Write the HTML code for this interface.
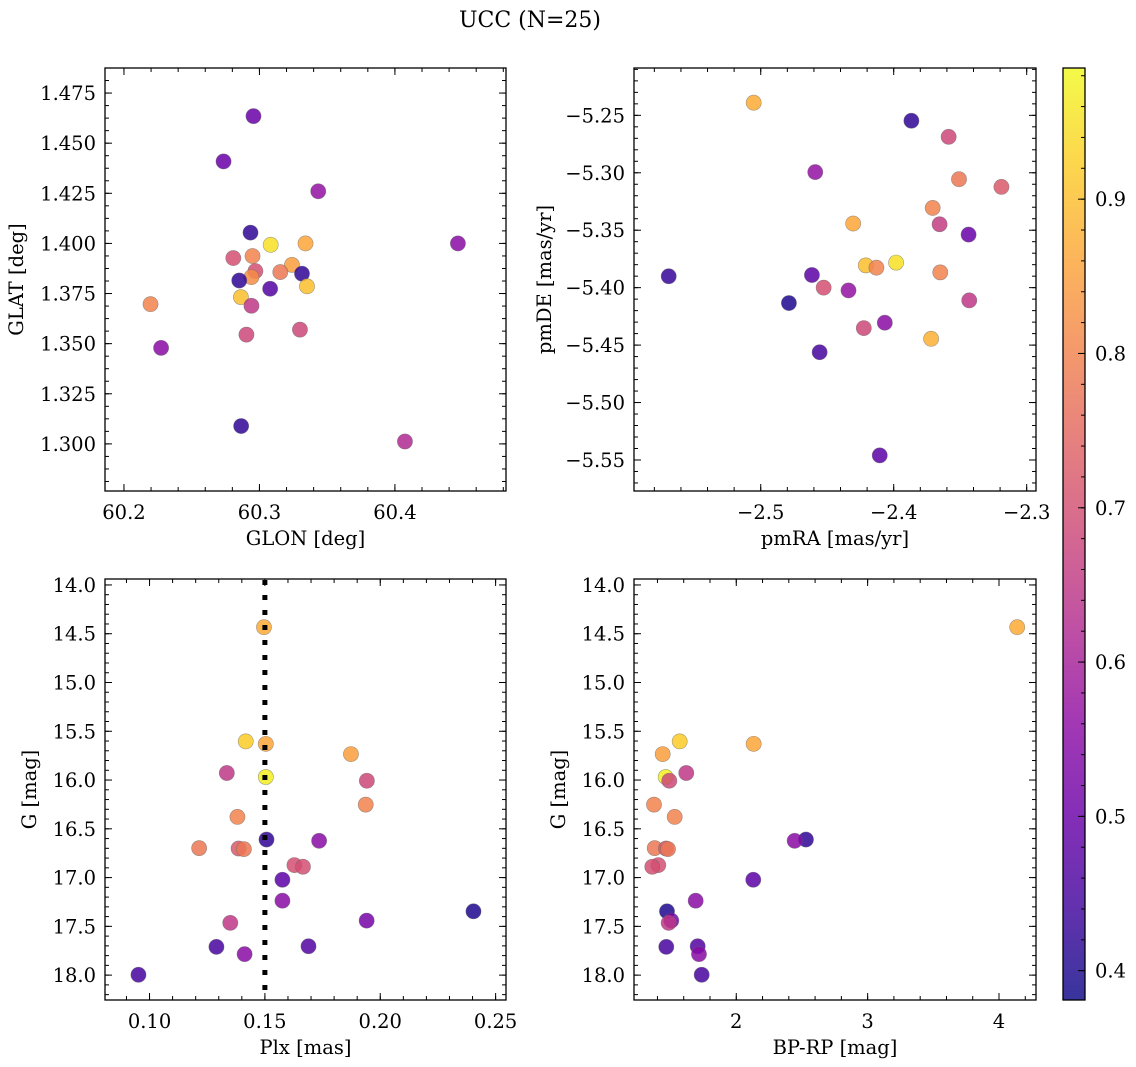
<!DOCTYPE html>
<html><head><meta charset="utf-8">
<style>
html,body{margin:0;padding:0;background:#fff;}
svg{display:block;font-family:"DejaVu Serif","Liberation Serif",serif;}
</style></head>
<body>
<svg id="fig" width="1136" height="1067" viewBox="0 0 1136 1067" xmlns="http://www.w3.org/2000/svg">
<defs>
<linearGradient id="plasma" x1="0" y1="1" x2="0" y2="0">
<stop offset="0" stop-color="#0d0887"/><stop offset="0.1" stop-color="#41049d"/>
<stop offset="0.2" stop-color="#6a00a8"/><stop offset="0.3" stop-color="#8f0da4"/>
<stop offset="0.4" stop-color="#b12a90"/><stop offset="0.5" stop-color="#cc4778"/>
<stop offset="0.6" stop-color="#e16462"/><stop offset="0.7" stop-color="#f2844b"/>
<stop offset="0.8" stop-color="#fca636"/><stop offset="0.9" stop-color="#fcce25"/>
<stop offset="1" stop-color="#f0f921"/>
</linearGradient>
</defs>
<text x="530" y="27" font-size="22" text-anchor="middle">UCC (N=25)</text>
</svg>
<script>
// ---- data ----
const glon = [60.2956,60.2735,60.3434,60.2934,60.3083,60.334,60.4465,60.2807,60.2949,60.324,60.297,60.3154,60.2941,60.3314,60.2851,60.3351,60.2196,60.2863,60.3079,60.2941,60.2274,60.2904,60.3299,60.2865,60.4074];
const glat = [1.4635,1.4409,1.426,1.4054,1.3993,1.4,1.4,1.3927,1.3937,1.3893,1.3862,1.3857,1.3832,1.3849,1.3815,1.3786,1.3697,1.3732,1.3774,1.3689,1.3479,1.3545,1.357,1.3089,1.3012];
const probTL = [0.5,0.5,0.57,0.42,0.95,0.86,0.55,0.7,0.8,0.85,0.7,0.78,0.82,0.42,0.42,0.9,0.8,0.9,0.47,0.65,0.55,0.68,0.68,0.42,0.62];

const pmra = [-2.5053,-2.3867,-2.3587,-2.459,-2.3509,-2.319,-2.3707,-2.4305,-2.3655,-2.3437,-2.5692,-2.4615,-2.421,-2.413,-2.3982,-2.365,-2.4527,-2.434,-2.4788,-2.3432,-2.4225,-2.4067,-2.3719,-2.4557,-2.4105];
const pmde = [-5.239,-5.2547,-5.2687,-5.2994,-5.3056,-5.3123,-5.3306,-5.3442,-5.3448,-5.3538,-5.3901,-5.389,-5.3806,-5.3826,-5.3782,-5.3867,-5.4,-5.4024,-5.4134,-5.4111,-5.4352,-5.4305,-5.4445,-5.4562,-5.546];
const probTR = [0.87,0.42,0.68,0.57,0.78,0.72,0.8,0.86,0.66,0.5,0.43,0.48,0.9,0.8,0.95,0.8,0.7,0.57,0.4,0.65,0.68,0.55,0.88,0.45,0.48];

const plx = [0.1496,0.1417,0.1504,0.1873,0.1335,0.1504,0.1942,0.1937,0.1381,0.1507,0.1735,0.1215,0.1386,0.1409,0.1628,0.1665,0.1576,0.1576,0.2404,0.1941,0.135,0.129,0.1689,0.1412,0.0952];
const gmag = [14.433,15.604,15.629,15.734,15.928,15.969,16.007,16.252,16.378,16.610,16.623,16.698,16.702,16.708,16.872,16.889,17.022,17.237,17.346,17.441,17.464,17.710,17.704,17.785,17.996];
const probG = [0.87,0.92,0.86,0.85,0.65,0.97,0.68,0.8,0.8,0.42,0.55,0.78,0.72,0.78,0.7,0.7,0.48,0.55,0.4,0.52,0.65,0.45,0.47,0.55,0.45];

const gmagBR = [14.433,15.604,15.629,15.734,15.928,15.969,16.007,16.252,16.378,16.610,16.623,16.698,16.702,16.708,16.872,16.889,17.022,17.237,17.346,17.441,17.464,17.710,17.704,17.785,17.996];
const bprp = [4.1385,1.5693,2.1324,1.4399,1.6195,1.4627,1.4901,1.3737,1.5312,2.5304,2.4444,1.379,1.465,1.4802,1.4064,1.3607,2.1294,1.691,1.4726,1.5053,1.4855,1.4673,1.7062,1.7161,1.7367];

const plxRef = [0.15];
const cbTicks = [0.4,0.5,0.6,0.7,0.8,0.9];
const cbRange = [0.381,0.985];

// ---- helpers ----
const NS = "http://www.w3.org/2000/svg";
const svg = document.getElementById('fig');
const stops = [[13,8,135],[65,4,157],[106,0,168],[143,13,164],[177,42,144],[204,71,120],[225,100,98],[242,132,75],[252,166,54],[252,206,37],[240,249,33]];
function plasma(v){
  let t=(v-cbRange[0])/(cbRange[1]-cbRange[0]); t=Math.max(0,Math.min(1,t));
  const f=t*10, i=Math.min(9,Math.floor(f)), r=f-i;
  const a=stops[i], b=stops[i+1];
  return 'rgb('+a.map((c,k)=>Math.round(c+(b[k]-c)*r)).join(',')+')';
}
function el(tag, attrs, parent){
  const e=document.createElementNS(NS,tag);
  for(const k in attrs) e.setAttribute(k,attrs[k]);
  (parent||svg).appendChild(e); return e;
}
function fmtNum(v,d){ const s=Math.abs(v).toFixed(d); return (v<-1e-12?'\u2212':'')+s; }

const FS=19.5;
function panel(cfg){
  const g=el('g',{});
  
  
  const {x0,x1,y0,y1}=cfg.box;
  const sx=v=>x0+(v-cfg.xd[0])/(cfg.xd[1]-cfg.xd[0])*(x1-x0);
  const sy=cfg.yInv ? (v=>y0+(v-cfg.yd[0])/(cfg.yd[1]-cfg.yd[0])*(y1-y0))
                    : (v=>y1-(v-cfg.yd[0])/(cfg.yd[1]-cfg.yd[0])*(y1-y0));
  const xmin=Math.min(...cfg.xd), xmax=Math.max(...cfg.xd), ymin=Math.min(...cfg.yd), ymax=Math.max(...cfg.yd);
  const tg=el('g',{stroke:'#000','stroke-width':1},g);
  for(let k=Math.ceil(xmin/cfg.xmin-1e-6);k*cfg.xmin<=xmax+1e-9;k++){
    const x=sx(k*cfg.xmin); el('line',{x1:x,x2:x,y1:y1,y2:y1-4},tg); el('line',{x1:x,x2:x,y1:y0,y2:y0+4},tg);
  }
  for(let k=Math.ceil(ymin/cfg.ymin-1e-6);k*cfg.ymin<=ymax+1e-9;k++){
    const y=sy(k*cfg.ymin); el('line',{x1:x0,x2:x0+4,y1:y,y2:y},tg); el('line',{x1:x1,x2:x1-4,y1:y,y2:y},tg);
  }
  cfg.xt.forEach(v=>{
    const x=sx(v);
    el('line',{x1:x,x2:x,y1:y1,y2:y1-7},tg); el('line',{x1:x,x2:x,y1:y0,y2:y0+7},tg);
    const t=el('text',{x:x,y:y1+28,'font-size':FS,'text-anchor':'middle'},g);
    
    
    t.textContent=fmtNum(v,cfg.xdec);
  });
  cfg.yt.forEach(v=>{
    const y=sy(v);
    el('line',{x1:x0,x2:x0+7,y1:y,y2:y},tg); el('line',{x1:x1,x2:x1-7,y1:y,y2:y},tg);
    const t=el('text',{x:x0-9,y:y+7,'font-size':FS,'text-anchor':'end'},g);
    
    
    t.textContent=fmtNum(v,cfg.ydec);
  });
  const pg=el('g',{},g);
  cfg.xs.forEach((xv,i)=>{
    const c=el('circle',{cx:sx(xv),cy:sy(cfg.ys[i]),r:7.6,fill:plasma(cfg.cs[i]),'fill-opacity':0.85,stroke:'#666','stroke-opacity':0.6,'stroke-width':0.6},pg);
    
    
  });
  if(cfg.vline){
    cfg.vline.forEach(v=>{
      const l=el('line',{x1:sx(v),x2:sx(v),y1:y0+1,y2:y1,stroke:'#000','stroke-width':5,'stroke-dasharray':'5 10'},g);
      
      
    });
  }
  el('rect',{x:x0,y:y0,width:x1-x0,height:y1-y0,fill:'none',stroke:'#000','stroke-width':1.3},g);
  const xt=el('text',{x:(x0+x1)/2,y:y1+54,'font-size':FS,'text-anchor':'middle'},g);
  
  
  xt.textContent=cfg.xl;
  const yx=cfg.ylx, yy=(y0+y1)/2;
  const yt=el('text',{x:yx,y:yy,'font-size':FS,'text-anchor':'middle',transform:'rotate(-90 '+yx+' '+yy+')'},g);
  
  
  yt.textContent=cfg.yl;
}

panel({name:'glon-glat-panel',box:{x0:105,x1:506,y0:68,y1:491},xd:[60.186,60.482],yd:[1.2765,1.4875],
  xt:[60.2,60.3,60.4],xmin:0.02,xdec:1,yt:[1.3,1.325,1.35,1.375,1.4,1.425,1.45,1.475],ymin:0.00625,ydec:3,
  xs:glon,ys:glat,cs:probTL,xl:'GLON [deg]',yl:'GLAT [deg]',ylx:23});
panel({name:'pm-panel',box:{x0:634,x1:1036,y0:68,y1:491},xd:[-2.5953,-2.293],yd:[-5.577,-5.2088],
  xt:[-2.5,-2.4,-2.3],xmin:0.02,xdec:1,yt:[-5.55,-5.5,-5.45,-5.4,-5.35,-5.3,-5.25],ymin:0.01,ydec:2,
  xs:pmra,ys:pmde,cs:probTR,xl:'pmRA [mas/yr]',yl:'pmDE [mas/yr]',ylx:551});
panel({name:'plx-g-panel',box:{x0:105,x1:506,y0:579,y1:1000},xd:[0.0807,0.2545],yd:[13.939,18.255],yInv:true,
  xt:[0.10,0.15,0.20,0.25],xmin:0.01,xdec:2,yt:[14,14.5,15,15.5,16,16.5,17,17.5,18],ymin:0.1,ydec:1,
  xs:plx,ys:gmag,cs:probG,vline:plxRef,xl:'Plx [mas]',yl:'G [mag]',ylx:36});
panel({name:'cmd-panel',box:{x0:634,x1:1036,y0:579,y1:1000},xd:[1.2215,4.2816],yd:[13.939,18.255],yInv:true,
  xt:[2,3,4],xmin:0.2,xdec:0,yt:[14,14.5,15,15.5,16,16.5,17,17.5,18],ymin:0.1,ydec:1,
  xs:bprp,ys:gmagBR,cs:probG,xl:'BP-RP [mag]',yl:'G [mag]',ylx:565});

(function(){
  const g=el('g',{});
  
  
  const x0=1063,x1=1085,y0=68,y1=1000;
  el('rect',{x:x0,y:y0,width:x1-x0,height:y1-y0,fill:'url(#plasma)','fill-opacity':0.82},g);
  const sy=v=>y1-(v-cbRange[0])/(cbRange[1]-cbRange[0])*(y1-y0);
  for(let k=Math.ceil(cbRange[0]/0.02);k*0.02<=cbRange[1];k++){
    const y=sy(k*0.02); el('line',{x1:x1,x2:x1-4,y1:y,y2:y,stroke:'#000','stroke-width':1},g);
  }
  cbTicks.forEach(v=>{
    const y=sy(v);
    el('line',{x1:x1,x2:x1-7,y1:y,y2:y,stroke:'#000','stroke-width':1},g);
    const t=el('text',{x:x1+10,y:y+7,'font-size':FS},g);
    
    
    t.textContent=v.toFixed(1);
  });
  el('rect',{x:x0,y:y0,width:x1-x0,height:y1-y0,fill:'none',stroke:'#000','stroke-width':1.3},g);
})();
</script>
</body></html>
